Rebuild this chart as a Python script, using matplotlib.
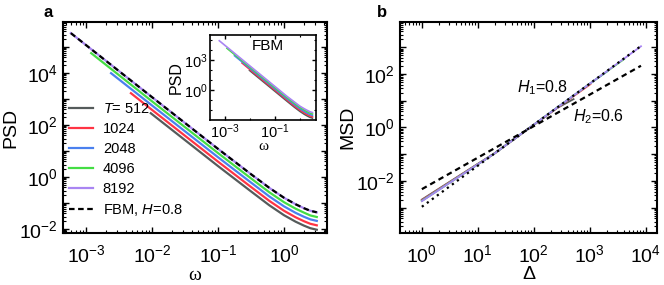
import numpy as np
import matplotlib
matplotlib.use("Agg")
import matplotlib.pyplot as plt
from matplotlib.ticker import LogLocator, FuncFormatter, FixedLocator, NullFormatter

plt.rcParams['font.family'] = ['Liberation Sans', 'DejaVu Sans']
plt.rcParams['mathtext.fontset'] = 'custom'
plt.rcParams['mathtext.rm'] = 'Liberation Sans'
plt.rcParams['mathtext.it'] = 'Liberation Sans:italic'
plt.rcParams['mathtext.bf'] = 'Liberation Sans:bold'

# ---- panel a: PSD vs omega (log10 of PSD)
T_labels = ['$T$= 512', '1024', '2048', '4096', '8192']
colors = ['#555b5b', '#ff3444', '#4a80ee', '#44dd44', '#a985f2']

omega_tail = [1e-2, 1e-1, 0.3, 0.6, 1.0, 1.5, 2.0, 2.5, np.pi]
omega_start = [9.6e-3, 4.8e-3, 2.4e-3, 1.2e-3, 5.9e-4]

psd_512 = [2.45, 0.42, -0.51, -1.09, -1.47, -1.72, -1.87, -1.97, -2.03]
psd_1024 = [3.22, 2.58, 0.59, -0.34, -0.92, -1.30, -1.55, -1.70, -1.80, -1.86]
psd_2048 = [3.99, 2.75, 0.76, -0.17, -0.75, -1.13, -1.38, -1.53, -1.63, -1.69]
psd_4096 = [4.76, 2.91, 0.92, -0.01, -0.59, -0.97, -1.22, -1.37, -1.48, -1.54]
psd_8192 = [5.53, 3.07, 1.08, 0.15, -0.42, -0.80, -1.05, -1.20, -1.30, -1.36]
psd_fbm = [5.53, 3.07, 1.08, 0.15, -0.42, -0.80, -1.05, -1.20, -1.30, -1.36]

# inset (FBM)
ins_512 = [1.96, -0.13, -1.11, -1.72, -2.14, -2.43, -2.61, -2.73, -2.81]
ins_1024 = [2.70, 2.04, -0.01, -0.99, -1.59, -2.01, -2.29, -2.47, -2.59, -2.67]
ins_2048 = [3.43, 2.16, 0.11, -0.87, -1.46, -1.88, -2.15, -2.33, -2.45, -2.53]
ins_4096 = [4.17, 2.28, 0.23, -0.75, -1.33, -1.75, -2.01, -2.19, -2.31, -2.39]
ins_8192 = [4.93, 2.40, 0.35, -0.63, -1.20, -1.62, -1.88, -2.05, -2.17, -2.25]

# ---- panel b: MSD vs lag (log10 of MSD)
lag_512 = [1, 10, 20, 100, 256, 512]
lag_1024 = [1, 10, 20, 100, 512, 1024]
lag_2048 = [1, 10, 20, 100, 1000, 2048]
lag_4096 = [1, 10, 20, 100, 1000, 4096]
lag_8192 = [1, 10, 20, 100, 1000, 8192]
msd_512 = [-2.70, -1.36, -0.96, 0.10, 0.72, 1.06]
msd_1024 = [-2.72, -1.37, -0.97, 0.10, 1.17, 1.62]
msd_2048 = [-2.74, -1.38, -0.97, 0.105, 1.64, 2.10]
msd_4096 = [-2.75, -1.38, -0.97, 0.105, 1.64, 2.56]
msd_8192 = [-2.76, -1.38, -0.97, 0.105, 1.64, 3.04]
lag_fit = [1, 8192]
msd_h1 = [-2.97, 3.05]
msd_h2 = [-2.31, 2.31]


def omegas(i):
    # gray curve starts just below 1e-2, so drop the 1e-2 point for it
    if i == 0:
        return [omega_start[0]] + omega_tail[1:]
    return [omega_start[i]] + omega_tail


def even_fmt(v, pos):
    e = int(round(np.log10(v)))
    return r'$\mathdefault{10^{%d}}$' % e if e % 2 == 0 else ''


def all_fmt(v, pos):
    e = int(round(np.log10(v)))
    return r'$\mathdefault{10^{%d}}$' % e


def style(ax, size=14):
    for s in ax.spines.values():
        s.set_linewidth(1.5)
    ax.tick_params(which='both', direction='in', top=True, right=True,
                   labelsize=size)
    ax.tick_params(which='major', length=4, width=1)
    ax.tick_params(which='minor', length=2, width=0.8)


def log_axes(ax, yfmt):
    ax.xaxis.set_major_locator(LogLocator(base=10, numticks=20))
    ax.yaxis.set_major_locator(LogLocator(base=10, numticks=20))
    ax.xaxis.set_minor_locator(LogLocator(base=10, subs=np.arange(2, 10), numticks=20))
    ax.yaxis.set_minor_locator(LogLocator(base=10, subs=np.arange(2, 10), numticks=20))
    ax.xaxis.set_major_formatter(FuncFormatter(all_fmt))
    ax.yaxis.set_major_formatter(FuncFormatter(yfmt))
    ax.xaxis.set_minor_formatter(NullFormatter())
    ax.yaxis.set_minor_formatter(NullFormatter())
    ax.tick_params(axis='x', pad=8)


fig = plt.figure(figsize=(6.64, 2.85), dpi=100)
ax1 = fig.add_axes([0.0949, 0.1825, 0.3976, 0.7404])
ax2 = fig.add_axes([0.6024, 0.1825, 0.3870, 0.7404])
axi = fig.add_axes([0.3163, 0.5789, 0.1596, 0.2982])

psd_all = [psd_512, psd_1024, psd_2048, psd_4096, psd_8192]
for i, p in enumerate(psd_all):
    ax1.loglog(omegas(i), 10 ** np.array(p), color=colors[i], lw=1.6,
               label=T_labels[i])
ax1.loglog(omegas(4), 10 ** np.array(psd_fbm), color='k', lw=1.6,
           dashes=(2.5, 1.6), label='FBM, $H$=0.8')
ax1.set_xlim(4.49e-4, 4.49)
ax1.set_ylim(7.0e-3, 9.1e5)
style(ax1)
log_axes(ax1, even_fmt)
ax1.set_xlabel('ω', fontsize=14, family='Liberation Serif', labelpad=1)
ax1.set_ylabel('PSD', fontsize=14, labelpad=0)
ax1.legend(loc='lower left', bbox_to_anchor=(0.01, 0.055), frameon=False,
           fontsize=10.5, handlelength=1.65, handletextpad=0.7,
           labelspacing=0.42, borderpad=0.2, borderaxespad=0)
ax1.text(-0.055, 1.01, 'a', transform=ax1.transAxes, fontsize=12,
         fontweight='bold', ha='center', va='bottom')

# inset
ins_all = [ins_512, ins_1024, ins_2048, ins_4096, ins_8192]
for i, p in enumerate(ins_all):
    axi.loglog(omegas(i), 10 ** np.array(p), color=colors[i], lw=1.2)
axi.set_xlim(10 ** -3.6, 10 ** 0.64)
axi.set_ylim(1e-3, 10 ** 5.5)
style(axi, size=10.5)
for s in axi.spines.values():
    s.set_linewidth(1.2)
axi.tick_params(which='major', length=3)
axi.tick_params(which='minor', length=1.5)
axi.xaxis.set_major_locator(FixedLocator([1e-3, 1e-1]))
axi.xaxis.set_minor_locator(FixedLocator([1e-2, 1e0]))
axi.yaxis.set_major_locator(FixedLocator([1e0, 1e3]))
axi.yaxis.set_minor_locator(FixedLocator([1e-2, 1e-1, 1e1, 1e2, 1e4, 1e5]))
axi.xaxis.set_major_formatter(FuncFormatter(all_fmt))
axi.yaxis.set_major_formatter(FuncFormatter(all_fmt))
axi.xaxis.set_minor_formatter(NullFormatter())
axi.yaxis.set_minor_formatter(NullFormatter())
axi.tick_params(axis='both', pad=2)
axi.set_xlabel('ω', fontsize=11, family='Liberation Serif', labelpad=-1)
axi.set_ylabel('PSD', fontsize=11.5, labelpad=0)
axi.text(0.55, 0.87, 'FBM', transform=axi.transAxes, fontsize=11,
         ha='center', va='center')

# panel b
lags = [lag_512, lag_1024, lag_2048, lag_4096, lag_8192]
msds = [msd_512, msd_1024, msd_2048, msd_4096, msd_8192]
for i in range(5):
    ax2.loglog(lags[i], 10 ** np.array(msds[i]), color=colors[i], lw=1.3)
ax2.loglog(lag_fit, 10 ** np.array(msd_h2), color='k', lw=1.6, dashes=(2.5, 1.8))
ax2.loglog(lag_fit, 10 ** np.array(msd_h1), color='k', lw=1.6, dashes=(1, 1.8))
ax2.set_xlim(0.407, 1.58e4)
ax2.set_ylim(1.12e-4, 8.9e3)
style(ax2)
log_axes(ax2, even_fmt)
ax2.set_xlabel('Δ', fontsize=14, labelpad=0)
ax2.set_ylabel('MSD', fontsize=14, labelpad=0)
ax2.text(0.553, 0.69, '$H_1$=0.8', transform=ax2.transAxes, fontsize=11.5,
         ha='center', va='center')
ax2.text(0.774, 0.552, '$H_2$=0.6', transform=ax2.transAxes, fontsize=11.5,
         ha='center', va='center')
ax2.text(-0.07, 1.01, 'b', transform=ax2.transAxes, fontsize=12,
         fontweight='bold', ha='center', va='bottom')

fig.savefig('out.png', dpi=100)
